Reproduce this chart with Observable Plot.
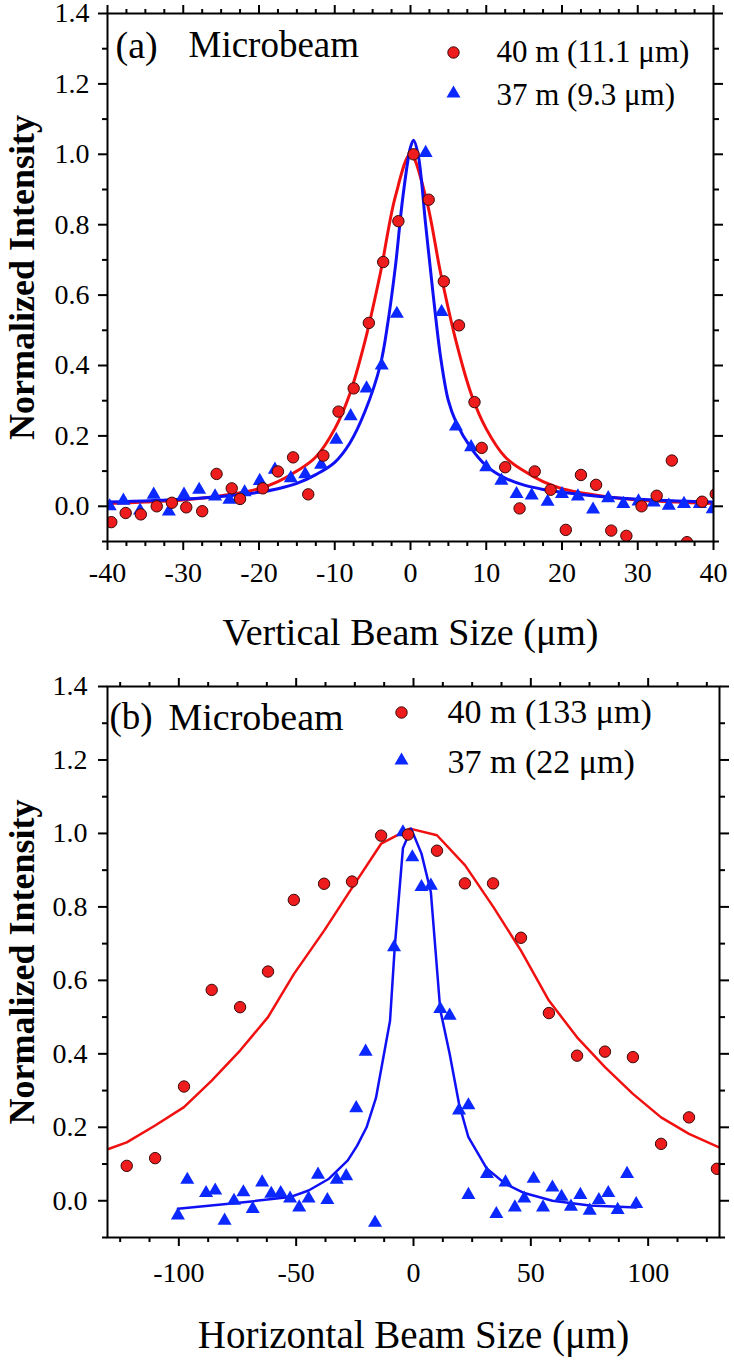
<!DOCTYPE html>
<html><head><meta charset="utf-8">
<script src="https://cdn.jsdelivr.net/npm/d3@7"></script>
<script src="https://cdn.jsdelivr.net/npm/@observablehq/plot@0.6"></script>
<style>
body{margin:0;background:#fff;}
#chart svg{display:block;}
</style></head><body><div id="chart"></div>
<script>
// ---------- Panel (a): vertical ----------
const xRedA = [-39.5,-37.6,-35.6,-33.5,-31.5,-29.6,-27.5,-25.6,-23.6,-22.5,-19.5,-17.5,-15.5,-13.5,-11.5,-9.5,-7.5,-5.5,-3.6,-1.6,0.4,2.4,4.4,6.4,8.45,9.4,12.5,14.4,16.4,18.5,20.5,22.5,24.5,26.5,28.5,30.5,32.5,34.5,36.5,38.5,40.3];
const yRedA = [-0.045,-0.019,-0.023,0.0,0.01,-0.003,-0.014,0.092,0.051,0.021,0.051,0.099,0.139,0.034,0.144,0.269,0.335,0.521,0.694,0.81,1.0,0.871,0.639,0.514,0.296,0.166,0.111,-0.006,0.099,0.047,-0.067,0.089,0.061,-0.069,-0.084,0.0,0.03,0.13,-0.102,0.013,0.035];
const xBlueA = [-39.7,-37.9,-35.7,-33.9,-31.9,-29.9,-27.9,-25.8,-23.9,-21.9,-19.9,-17.9,-15.8,-13.9,-11.8,-9.8,-7.9,-5.8,-3.8,-1.8,2.0,4.1,6.0,8.0,10.0,12.0,14.0,16.0,18.1,20.0,22.1,24.1,26.1,28.1,30.1,32.1,34.1,36.1,38.2,39.9];
const yBlueA = [0.0,0.016,-0.012,0.033,-0.015,0.033,0.047,0.028,0.019,0.04,0.072,0.104,0.08,0.091,0.118,0.189,0.256,0.335,0.40,0.547,1.004,0.552,0.227,0.168,0.111,0.073,0.035,0.031,0.013,0.035,0.028,-0.009,0.023,0.007,0.014,0.011,0.002,0.007,0.007,-0.008];
const xFitRedA = [-40,-35,-30,-25,-20,-17.5,-15,-12.5,-10,-8,-6,-4,-2,0,2,4,6,8,10,12.5,15,17.5,20,25,30,35,40];
const yFitRedA = [0.008,0.012,0.018,0.03,0.05,0.07,0.1,0.14,0.22,0.32,0.47,0.66,0.88,1.0,0.88,0.66,0.47,0.32,0.22,0.14,0.1,0.07,0.05,0.03,0.018,0.012,0.008];
const xFitBlueA = [-40,-30,-25,-20,-17.5,-15,-12.5,-10,-8,-6,-4,-3,-2,-1,0,0.4,1,2,3,4,5,6,8,10,12.5,15,17.5,20,25,30,40];
const yFitBlueA = [0.012,0.02,0.028,0.04,0.05,0.065,0.09,0.125,0.18,0.27,0.4,0.52,0.68,0.88,1.02,1.04,1.0,0.8,0.6,0.42,0.3,0.24,0.165,0.115,0.08,0.06,0.048,0.04,0.028,0.02,0.012];
const xTicksA = [-40,-30,-20,-10,0,10,20,30,40];
const xMinorA = [-37.5,-35,-32.5,-27.5,-25,-22.5,-17.5,-15,-12.5,-7.5,-5,-2.5,2.5,5,7.5,12.5,15,17.5,22.5,25,27.5,32.5,35,37.5];

// ---------- Panel (b): horizontal ----------
const xRedB = [-122.2,-110.1,-97.8,-86,-73.9,-62,-51,-38.1,-26.2,-13.8,-2.3,10,21.9,33.9,45.8,57.7,69.7,81.6,93.5,105.5,117.4,129.3];
const yRedB = [0.095,0.116,0.311,0.574,0.527,0.624,0.819,0.863,0.869,0.994,0.997,0.953,0.864,0.864,0.716,0.511,0.395,0.406,0.391,0.155,0.227,0.087];
const xBlueB = [-100.4,-96.4,-88.4,-84.5,-80.5,-76.5,-72.5,-68.5,-64.5,-60.6,-56.6,-52.6,-48.7,-44.7,-40.7,-36.7,-32.7,-28.7,-24.4,-20.4,-16.4,-8.3,-4.5,-0.5,3.4,7.4,11.4,15.4,19.4,23.4,23.4,31.3,35.3,39.2,43.2,47.2,51.2,55.2,59.2,63.1,67.1,71.1,75.1,79.0,83.0,87.0,91.0,94.9];
const yBlueB = [-0.04,0.057,0.021,0.028,-0.054,0.0,0.023,-0.022,0.05,0.019,0.021,0.006,-0.018,0.006,0.071,0.002,0.057,0.067,0.252,0.406,-0.06,0.69,1.003,0.935,0.854,0.858,0.522,0.504,0.246,0.26,0.016,0.073,-0.036,0.05,-0.018,0.006,0.06,-0.018,0.036,0.011,-0.016,0.016,-0.027,0.002,0.021,-0.025,0.073,-0.009];
const xFitRedB = [-130,-122.2,-110.1,-97.8,-86,-73.9,-62,-51,-38,-26,-13.8,-1.5,10,22,34,45.8,57.7,69.7,81.6,93.5,105.5,117.4,130];
const yFitRedB = [0.141,0.159,0.205,0.255,0.327,0.409,0.5,0.617,0.736,0.854,0.972,1.013,0.995,0.913,0.80,0.681,0.545,0.445,0.364,0.291,0.227,0.182,0.146];
const xFitBlueB = [-100.4,-76.5,-52.6,-44.7,-36,-28,-24,-20,-16,-12,-10,-8,-4.5,-1,3.4,7.4,11.4,15.4,19.4,23.4,31.3,39.2,47.2,59.2,75.1,94.9];
const yFitBlueB = [-0.022,-0.007,0.01,0.028,0.06,0.11,0.15,0.2,0.28,0.42,0.49,0.69,0.96,1.013,0.945,0.84,0.52,0.40,0.264,0.173,0.087,0.046,0.021,0.0,-0.013,-0.018];
const xTicksB = [-100,-50,0,50,100];
const xMinorB = [-125,-112.5,-87.5,-75,-62.5,-37.5,-25,-12.5,12.5,25,37.5,62.5,75,87.5,112.5,125];

// ---------- shared ----------
const yTicks = [0,0.2,0.4,0.6,0.8,1.0,1.2,1.4];
const yMinor = [-0.1,0.1,0.3,0.5,0.7,0.9,1.1,1.3];
const yTitle = "Normalized Intensity";
const labelsA = {tag:"(a)", name:"Microbeam", red:"40 m (11.1 μm)", blue:"37 m (9.3 μm)", xTitle:"Vertical Beam Size (μm)"};
const labelsB = {tag:"(b)", name:"Microbeam", red:"40 m (133 μm)", blue:"37 m (22 μm)", xTitle:"Horizontal Beam Size (μm)"};

const RED_LINE = "#f01010", RED_FILL = "#ee1c1c", RED_EDGE = "#3a0808";
const BLUE_LINE = "#1010f5", BLUE_FILL = "#0a28ff";
const FONT = "'Liberation Serif','Times New Roman',serif";

const zip = (xs, ys) => xs.map((x, i) => ({x, y: ys[i]}));

function panel(c) {
  const fmtY = d3.format(".1f");
  return Plot.plot({
    width: 734, height: c.height,
    marginTop: c.mt, marginLeft: 107, marginRight: c.mr, marginBottom: c.mb,
    style: {fontFamily: FONT, fontSize: "28px", color: "#000", background: "#fff", overflow: "visible"},
    x: {domain: c.xDomain, axis: null},
    y: {domain: [-0.1, 1.4], axis: null},
    marks: [
      Plot.line(zip(c.fitRed[0], c.fitRed[1]), {x: "x", y: "y", stroke: RED_LINE, strokeWidth: c.lw, curve: c.curve, clip: true}),
      Plot.line(zip(c.fitBlue[0], c.fitBlue[1]), {x: "x", y: "y", stroke: BLUE_LINE, strokeWidth: c.lw, curve: c.curve, clip: true}),
      Plot.dot(zip(c.blue[0], c.blue[1]), {x: "x", y: "y", symbol: "triangle", r: 5.2, fill: BLUE_FILL, clip: true}),
      Plot.dot(zip(c.red[0], c.red[1]), {x: "x", y: "y", r: 5.7, fill: RED_FILL, stroke: RED_EDGE, strokeWidth: 1, clip: true}),
      Plot.frame({stroke: "#000", strokeWidth: 2}),
      Plot.axisX(c.xTicks, {anchor: "bottom", tickSize: 9, tickPadding: c.xPad, strokeWidth: 2, tickFormat: d => String(d), label: null}),
      Plot.axisX(c.xMinor, {anchor: "bottom", tickSize: 5, strokeWidth: 2, text: null, label: null}),
      Plot.axisX(c.xTicks, {anchor: "top", tickSize: 9, strokeWidth: 2, text: null, label: null}),
      Plot.axisX(c.xMinor, {anchor: "top", tickSize: 5, strokeWidth: 2, text: null, label: null}),
      Plot.axisY(yTicks, {anchor: "left", tickSize: 9, tickPadding: c.yPad, strokeWidth: 2, tickFormat: fmtY, label: null}),
      Plot.axisY(yMinor, {anchor: "left", tickSize: 5, strokeWidth: 2, text: null, label: null}),
      Plot.axisY(yTicks, {anchor: "right", tickSize: 9, strokeWidth: 2, text: null, label: null}),
      Plot.axisY(yMinor, {anchor: "right", tickSize: 5, strokeWidth: 2, text: null, label: null}),
      Plot.text([yTitle], {text: d => d, frameAnchor: "left", dx: -85, rotate: -90, fontSize: 36, fontWeight: "bold", textAnchor: "middle", lineAnchor: "middle"}),
      Plot.text([c.labels.xTitle], {text: d => d, frameAnchor: "bottom", dy: c.xTitleDy, fontSize: c.xTitleSize, textAnchor: "middle", lineAnchor: "middle"}),
      Plot.text([c.labels.tag], {text: d => d, frameAnchor: "top-left", dx: c.tag[0], dy: c.tag[1], fontSize: c.tag[2], textAnchor: "start", lineAnchor: "middle"}),
      Plot.text([c.labels.name], {text: d => d, frameAnchor: "top-left", dx: c.name[0], dy: c.name[1], fontSize: c.name[2], textAnchor: "start", lineAnchor: "middle"}),
      Plot.dot([0], {frameAnchor: "top-left", dx: c.leg.sx, dy: c.leg.y1, r: 5.7, fill: RED_FILL, stroke: RED_EDGE, strokeWidth: 1}),
      Plot.dot([0], {frameAnchor: "top-left", dx: c.leg.sx, dy: c.leg.y2, r: 5.2, symbol: "triangle", fill: BLUE_FILL}),
      Plot.text([c.labels.red], {text: d => d, frameAnchor: "top-left", dx: c.leg.tx, dy: c.leg.y1, fontSize: c.leg.fs, textAnchor: "start", lineAnchor: "middle"}),
      Plot.text([c.labels.blue], {text: d => d, frameAnchor: "top-left", dx: c.leg.tx, dy: c.leg.y2 + 2, fontSize: c.leg.fs, textAnchor: "start", lineAnchor: "middle"})
    ]
  });
}

const root = document.getElementById("chart");
root.appendChild(panel({
  height: 660, mt: 13, mr: 21, mb: 119, xDomain: [-40, 40],
  red: [xRedA, yRedA], blue: [xBlueA, yBlueA], fitRed: [xFitRedA, yFitRedA], fitBlue: [xFitBlueA, yFitBlueA],
  xTicks: xTicksA, xMinor: xMinorA, xPad: 12, yPad: 9, lw: 3, curve: "catmull-rom",
  labels: labelsA, xTitleDy: 91, xTitleSize: 38,
  tag: [8, 32, 38], name: [81, 32, 37],
  leg: {sx: 346, tx: 389, y1: 39, y2: 80, fs: 31}
}));
root.appendChild(panel({
  height: 702, mt: 26, mr: 15, mb: 125, xDomain: [-130.4, 130.4],
  red: [xRedB, yRedB], blue: [xBlueB, yBlueB], fitRed: [xFitRedB, yFitRedB], fitBlue: [xFitBlueB, yFitBlueB],
  xTicks: xTicksB, xMinor: xMinorB, xPad: 16, yPad: 11, lw: 2.5, curve: "linear",
  labels: labelsB, xTitleDy: 98, xTitleSize: 39,
  tag: [2, 31, 37], name: [61, 31, 38],
  leg: {sx: 294, tx: 340, y1: 26, y2: 74, fs: 34}
}));
</script></body></html>
